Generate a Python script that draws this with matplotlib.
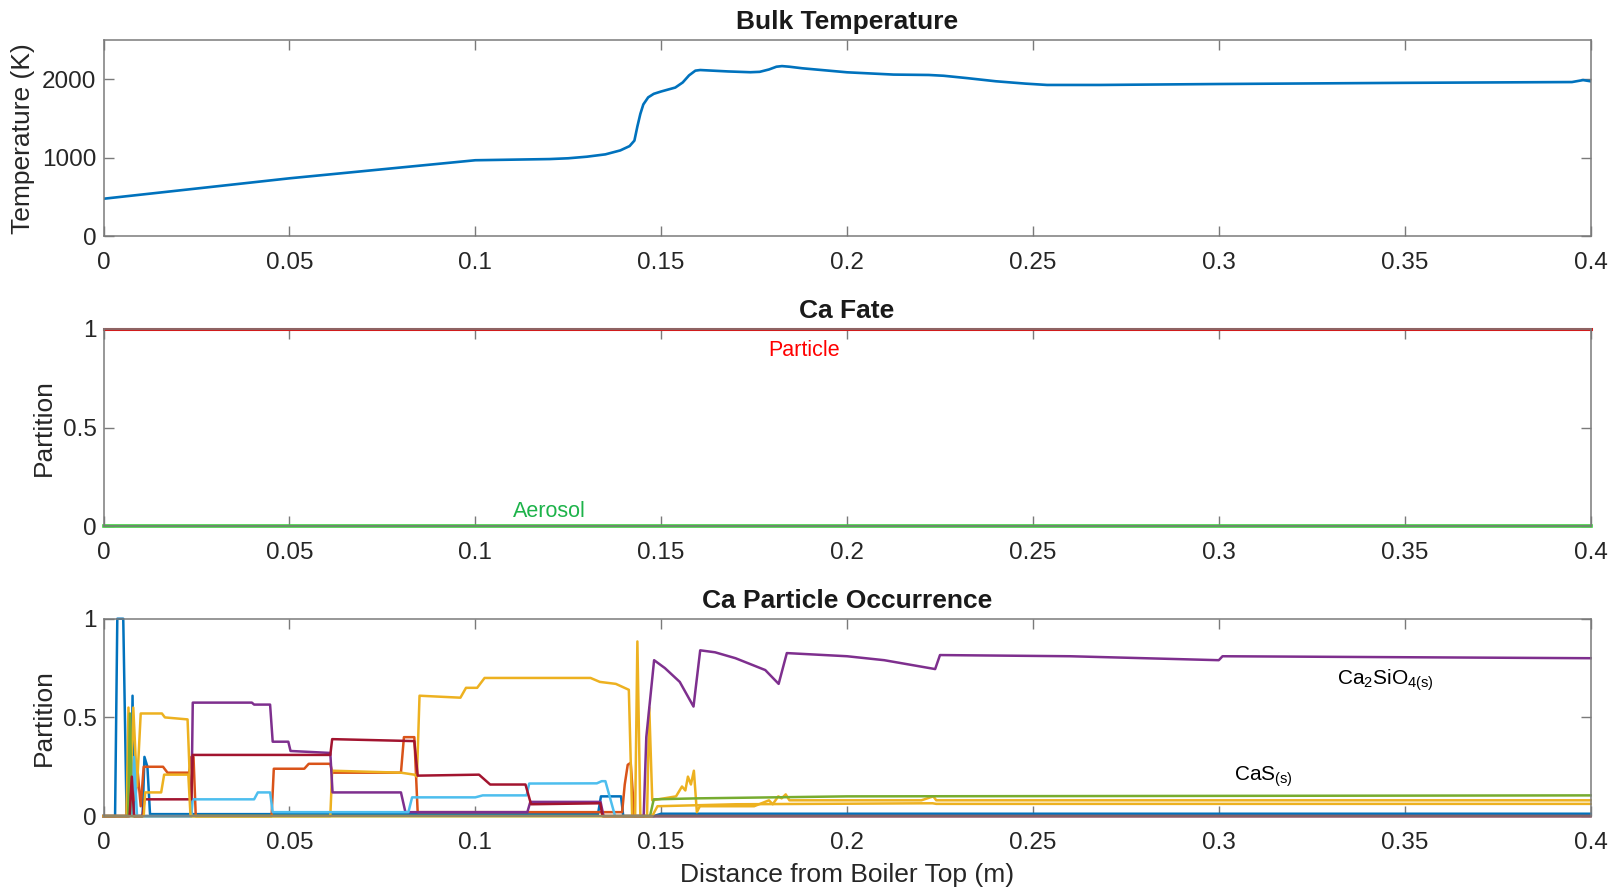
"""
Boiler profile: bulk temperature, Ca fate and Ca particle occurrence
along the distance from the boiler top.
"""
import numpy as np
import matplotlib
matplotlib.use('Agg')
import matplotlib.pyplot as plt

plt.rcParams['font.family'] = ['Liberation Sans', 'DejaVu Sans']
plt.rcParams['mathtext.fontset'] = 'custom'
plt.rcParams['mathtext.rm'] = 'Liberation Sans'
plt.rcParams['mathtext.default'] = 'regular'

# MATLAB default line colours
C_BLUE = '#0072BD'
C_ORANGE = '#D95319'
C_YELLOW = '#EDB120'
C_PURPLE = '#7E2F8E'
C_GREEN = '#77AC30'
C_LBLUE = '#4DBEEE'
C_DRED = '#A2142F'

# ---- bulk temperature (K)
temp_x = [0, 0.05, 0.1, 0.12, 0.125, 0.13, 0.135, 0.139, 0.1415, 0.1428, 0.1436, 0.1444,
          0.1452, 0.1465, 0.148, 0.150, 0.1538, 0.1558, 0.1575, 0.1592, 0.1605, 0.168,
          0.174, 0.1765, 0.179, 0.181, 0.1825, 0.1845, 0.188, 0.2, 0.2125, 0.222,
          0.226, 0.2323, 0.24, 0.248, 0.2538, 0.268, 0.3, 0.35, 0.395, 0.398, 0.4]
temp_y = [480, 740, 970, 985, 995, 1015, 1045, 1095, 1150, 1220, 1400, 1560,
          1680, 1770, 1815, 1845, 1895, 1960, 2050, 2110, 2118, 2100,
          2090, 2095, 2125, 2160, 2168, 2160, 2140, 2089, 2060, 2055,
          2045, 2015, 1975, 1945, 1928, 1928, 1940, 1955, 1965, 1990, 1975]

# ---- Ca fate
fate_x = [0, 0.4]
particle_y = [1, 1]
aerosol_y = [0, 0]

# ---- Ca particle occurrence (one list pair per species)
sp1_x = [0, 0.0031, 0.0037, 0.0053, 0.0062, 0.0074, 0.0078, 0.0082, 0.0105, 0.011,
         0.0118, 0.0125, 0.133, 0.1338, 0.1392, 0.1398, 0.148, 0.15, 0.4]
sp1_y = [0, 0, 1, 1, 0, 0, 0.61, 0, 0, 0.3,
         0.25, 0.01, 0.01, 0.1, 0.1, 0.0, 0.0, 0.012, 0.012]

sp2_x = [0, 0.0062, 0.0066, 0.0072, 0.0078, 0.0085, 0.0092, 0.0100, 0.0108, 0.016,
         0.0172, 0.023, 0.0236, 0.0242, 0.0248, 0.0452, 0.0458, 0.054, 0.0552, 0.061,
         0.0615, 0.080, 0.0808, 0.0836, 0.0845, 0.1395, 0.1402, 0.1410, 0.1418, 0.1428, 0.4]
sp2_y = [0, 0, 0.27, 0.05, 0.25, 0.08, 0.22, 0.05, 0.25, 0.25,
         0.22, 0.22, 0.3, 0.3, 0.0, 0.0, 0.24, 0.24, 0.265, 0.265,
         0.22, 0.22, 0.40, 0.40, 0.02, 0.02, 0.16, 0.26, 0.27, 0.0, 0.0]

sp3_x = [0, 0.0062, 0.0067, 0.0073, 0.0080, 0.0090, 0.0100, 0.0157, 0.0165, 0.0226,
         0.0236, 0.0610, 0.0615, 0.0800, 0.0836, 0.0843, 0.0850, 0.0960, 0.0975, 0.1005,
         0.1025, 0.1310, 0.1335, 0.1378, 0.1413, 0.1422, 0.1430, 0.1436, 0.1444, 0.1462,
         0.1468, 0.1476, 0.1540, 0.1556, 0.1565, 0.1572, 0.1580, 0.1588, 0.1596, 0.1604,
         0.1750, 0.1790, 0.1800, 0.1815, 0.1824, 0.1835, 0.1845, 0.2200, 0.2232, 0.2240, 0.4]
sp3_y = [0, 0, 0.55, 0.12, 0.55, 0.15, 0.52, 0.52, 0.50, 0.49,
         0.0, 0.0, 0.23, 0.22, 0.21, 0.2, 0.61, 0.60, 0.65, 0.65,
         0.70, 0.70, 0.68, 0.67, 0.64, 0.0, 0.0, 0.885, 0.0, 0.0,
         0.55, 0.08, 0.1, 0.15, 0.13, 0.2, 0.16, 0.23, 0.02, 0.05,
         0.05, 0.08, 0.06, 0.10, 0.09, 0.11, 0.08, 0.08, 0.1, 0.08, 0.08]

sp4_x = [0, 0.0068, 0.0072, 0.0078, 0.0236, 0.0240, 0.0399, 0.0405, 0.0448, 0.0455,
         0.0497, 0.0503, 0.0610, 0.0616, 0.0800, 0.0812, 0.1140, 0.1148, 0.1337, 0.1345,
         0.1453, 0.1460, 0.1481, 0.1510, 0.1550, 0.1587, 0.1605, 0.1645, 0.1700, 0.1780,
         0.1816, 0.1838, 0.2000, 0.2100, 0.2237, 0.2250, 0.2600, 0.3000, 0.3010, 0.3500, 0.4]
sp4_y = [0, 0, 0.1, 0.0, 0.0, 0.575, 0.575, 0.565, 0.565, 0.377,
         0.377, 0.33, 0.32, 0.12, 0.12, 0.02, 0.02, 0.072, 0.072, 0.0,
         0.0, 0.40, 0.79, 0.75, 0.68, 0.555, 0.84, 0.83, 0.80, 0.74,
         0.67, 0.826, 0.81, 0.79, 0.745, 0.816, 0.81, 0.79, 0.81, 0.805, 0.80]

sp5_x = [0, 0.0066, 0.0071, 0.0076, 0.0090, 0.1470, 0.1480, 0.1600, 0.2000, 0.4]
sp5_y = [0, 0, 0.52, 0.0, 0.0, 0.0, 0.085, 0.09, 0.1, 0.105]

sp6_x = [0, 0.0078, 0.0082, 0.0090, 0.0236, 0.0240, 0.0405, 0.0415, 0.0448, 0.0455,
         0.0820, 0.0830, 0.1000, 0.1020, 0.1138, 0.1145, 0.1327, 0.1340, 0.1350, 0.1376, 0.4]
sp6_y = [0, 0, 0.3, 0.0, 0.0, 0.085, 0.085, 0.12, 0.12, 0.02,
         0.02, 0.095, 0.095, 0.105, 0.105, 0.165, 0.166, 0.177, 0.177, 0.0, 0.0]

sp7_x = [0, 0.0070, 0.0076, 0.0082, 0.0105, 0.0110, 0.0236, 0.0240, 0.0610, 0.0615,
         0.0836, 0.0845, 0.1010, 0.1040, 0.1135, 0.1150, 0.1336, 0.1342, 0.4]
sp7_y = [0, 0, 0.2, 0.0, 0.0, 0.085, 0.085, 0.31, 0.31, 0.39,
         0.38, 0.205, 0.21, 0.16, 0.16, 0.06, 0.065, 0.0, 0.0]

sp8_x = [0, 0.0108, 0.0112, 0.0155, 0.0163, 0.0228, 0.0234, 0.1476, 0.1490, 0.1700,
         0.2230, 0.2240, 0.4]
sp8_y = [0, 0, 0.12, 0.12, 0.21, 0.21, 0.0, 0.0, 0.05, 0.06,
         0.065, 0.062, 0.062]

occ_series = [(sp1_x, sp1_y, C_BLUE), (sp2_x, sp2_y, C_ORANGE), (sp3_x, sp3_y, C_YELLOW),
              (sp4_x, sp4_y, C_PURPLE), (sp5_x, sp5_y, C_GREEN), (sp6_x, sp6_y, C_LBLUE),
              (sp7_x, sp7_y, C_DRED), (sp8_x, sp8_y, C_YELLOW)]

x_ticks = [0, 0.05, 0.1, 0.15, 0.2, 0.25, 0.3, 0.35, 0.4]
x_ticklabels = ['0', '0.05', '0.1', '0.15', '0.2', '0.25', '0.3', '0.35', '0.4']

AX_COLOR = '#7a7a7a'
TXT_COLOR = '#262626'
TITLE_FS = 19
LABEL_FS = 19
TICK_FS = 17.5


def style_axes(ax):
    for sp in ax.spines.values():
        sp.set_color(AX_COLOR)
        sp.set_linewidth(1.1)
    ax.tick_params(direction='in', length=7, width=1, colors=AX_COLOR,
                   labelcolor=TXT_COLOR, labelsize=TICK_FS, top=True, right=True)
    ax.tick_params(axis='x', pad=11.5)
    ax.tick_params(axis='y', pad=5)
    ax.set_xlim(0, 0.4)
    ax.set_xticks(x_ticks)
    ax.set_xticklabels(x_ticklabels)


fig = plt.figure(figsize=(16.23, 8.89), dpi=100)
ax1 = fig.add_axes([0.0638, 0.734, 0.9162, 0.221])
ax2 = fig.add_axes([0.0638, 0.408, 0.9162, 0.222])
ax3 = fig.add_axes([0.0638, 0.082, 0.9162, 0.222])

# temperature
ax1.plot(temp_x, temp_y, '-', color=C_BLUE, lw=1.9)
style_axes(ax1)
ax1.set_ylim(0, 2500)
ax1.set_yticks([0, 1000, 2000])
ax1.set_title('Bulk Temperature', fontsize=TITLE_FS, fontweight='bold', color='#1a1a1a', pad=8)
ax1.set_ylabel('Temperature (K)', fontsize=LABEL_FS, color=TXT_COLOR)
ax1.yaxis.set_label_coords(-0.046, 0.5)

# Ca fate
ax2.plot(fate_x, particle_y, '-', color='#d01c1c', lw=2.2, clip_on=False)
ax2.plot(fate_x, aerosol_y, '-', color='#3ccf3c', lw=2.6, clip_on=False)
style_axes(ax2)
ax2.set_ylim(0, 1)
ax2.set_yticks([0, 0.5, 1])
ax2.set_yticklabels(['0', '0.5', '1'])
ax2.text(0.1885, 0.893, 'Particle', color='#ff0000', fontsize=15.5, ha='center', va='center')
ax2.text(0.1198, 0.075, 'Aerosol', color='#1db34a', fontsize=15.5, ha='center', va='center')
ax2.set_title('Ca Fate', fontsize=TITLE_FS, fontweight='bold', color='#1a1a1a', pad=8)
ax2.set_ylabel('Partition', fontsize=LABEL_FS, color=TXT_COLOR)
ax2.yaxis.set_label_coords(-0.032, 0.5)

# Ca particle occurrence
for xs, ys, col in occ_series:
    ax3.plot(xs, ys, '-', color=col, lw=1.8, clip_on=False)
style_axes(ax3)
ax3.set_ylim(0, 1)
ax3.set_yticks([0, 0.5, 1])
ax3.set_yticklabels(['0', '0.5', '1'])
ax3.text(0.3317, 0.69, r'Ca$_{2}$SiO$_{4(s)}$', color='black', fontsize=15, ha='left', va='center')
ax3.text(0.304, 0.20, r'CaS$_{(s)}$', color='black', fontsize=15, ha='left', va='center')
ax3.set_title('Ca Particle Occurrence', fontsize=TITLE_FS, fontweight='bold', color='#1a1a1a', pad=8)
ax3.set_ylabel('Partition', fontsize=LABEL_FS, color=TXT_COLOR)
ax3.yaxis.set_label_coords(-0.032, 0.5)
ax3.set_xlabel('Distance from Boiler Top (m)', fontsize=LABEL_FS, color=TXT_COLOR)
ax3.xaxis.set_label_coords(0.5, -0.238)

fig.savefig('out.png', dpi=100, facecolor='white')
